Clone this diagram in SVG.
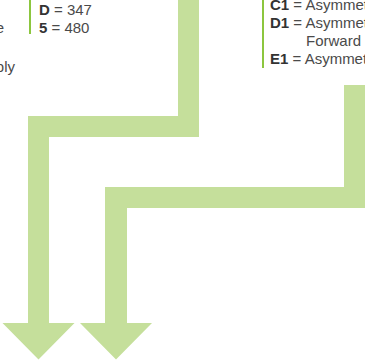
<svg xmlns="http://www.w3.org/2000/svg" width="365" height="360" viewBox="0 0 365 360">
<style>
.t{font-family:"Liberation Sans",Arial,sans-serif;font-size:15px;fill:#4a4a4a}
.b{font-weight:bold;fill:#333}
.bar{fill:#8cc63f}
.arrow{fill:#c5df9b}
</style>
<rect width="365" height="360" fill="#fff"/>
<g id="left-text">
<text class="t" x="4" y="33" text-anchor="end">e</text>
<text class="t" x="15" y="72" text-anchor="end">bly</text>
</g>
<g id="mid-legend">
<rect class="bar" x="29" y="0" width="2" height="34"/>
<text class="t" x="39" y="15"><tspan class="b">D</tspan> = 347</text>
<text class="t" x="39" y="33"><tspan class="b">5</tspan> = 480</text>
</g>
<g id="right-legend">
<rect class="bar" x="262" y="0" width="2" height="68"/>
<text class="t" x="270" y="9.5"><tspan class="b">C1</tspan> = Asymmetri</text>
<text class="t" x="270" y="27.5"><tspan class="b">D1</tspan> = Asymmetri</text>
<text class="t" x="306" y="45.5">Forward</text>
<text class="t" x="270" y="63.5"><tspan class="b">E1</tspan> = Asymmetri</text>
</g>
<g id="connectors">
<polygon class="arrow" points="178,-1 199,-1 199,137 49,137 49,323 74.5,323 38.5,359.5 2.5,323 28,323 28,116 178,116"/>
<polygon class="arrow" points="344,85 366,85 366,208 127,208 127,323 152,323 116,359.5 80,323 105,323 105,187 344,187"/>
</g>
</svg>
